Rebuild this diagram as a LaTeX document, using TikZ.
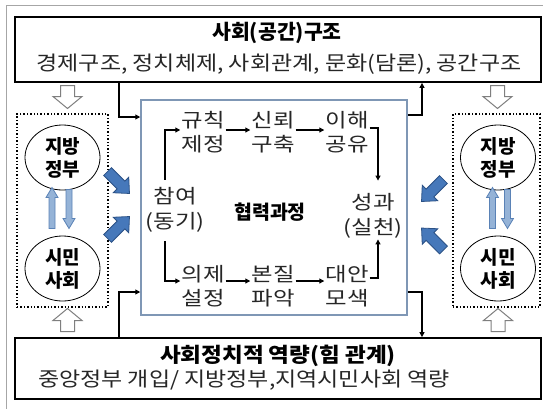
\documentclass[tikz,border=0pt]{standalone}
\usepackage{fontspec}
\setmainfont{Noto Sans CJK KR}
\newfontfamily\procfont[FakeStretch=1.2]{Noto Sans CJK KR}
\newfontfamily\subfont[FakeStretch=1.15]{Noto Sans CJK KR}
\newfontfamily\bttlfont[FakeStretch=1.1]{Noto Sans CJK KR}
\usetikzlibrary{arrows.meta,shapes.geometric}
\definecolor{frameg}{HTML}{A6A6A6}
\definecolor{innerb}{HTML}{7F97B5}
\definecolor{bluef}{HTML}{4678BA}
\definecolor{blued}{HTML}{2C5286}
\definecolor{lightf}{HTML}{95B3D7}
\definecolor{lightd}{HTML}{5A82B6}
\definecolor{hollowd}{HTML}{7F7F7F}
\definecolor{txt}{HTML}{262626}
\newcommand\blkarrow[8]{%
  \begin{scope}[shift={(#1,#2)},rotate=#3]
    \path[#8] ({-#4/2},{-#5/2}) -- ({#4/2-#7},{-#5/2}) -- ({#4/2-#7},{-#6/2})
      -- ({#4/2},0) -- ({#4/2-#7},{#6/2}) -- ({#4/2-#7},{#5/2}) -- ({-#4/2},{#5/2}) -- cycle;
  \end{scope}}
\tikzset{
  bigbox/.style={draw=black, line width=1.8pt, minimum width=526pt, inner sep=0pt},
  innerbox/.style={draw=innerb, line width=1.5pt, minimum width=266pt, minimum height=215pt, inner sep=0pt},
  dotbox/.style={draw=black, line width=1.4pt, dotted, minimum height=193pt, inner sep=0pt},
  ell/.style={ellipse, draw=black, line width=0.8pt, minimum width=75pt, minimum height=65pt, inner sep=0pt,
    align=center, font=\fontsize{19}{23}\selectfont\bfseries},
  proc/.style={align=center, inner sep=1pt, text=txt, font=\procfont\fontsize{19.5}{24.5}\selectfont},
  ttl/.style={inner sep=0pt, font=\fontsize{20.5}{24}\selectfont\bfseries},
  sub/.style={inner sep=0pt, text=txt, font=\subfont\fontsize{20}{24}\selectfont},
  conn/.style={draw=black, line width=1.1pt, -{Triangle[length=5pt,width=5pt]}},
  hollow/.style={draw=hollowd, fill=white, line width=1pt, line join=miter},
  bluearr/.style={draw=blued, fill=bluef, line width=0.8pt},
  lightarr/.style={draw=lightd, fill=lightf, line width=0.8pt}
}
\begin{document}
\begin{tikzpicture}[x=1pt,y=-1pt]
\useasboundingbox (0,0) rectangle (543,408);
\clip (0,0) rectangle (543,408);
\draw[frameg, line width=1pt] (6,420) -- (6,5) -- (560,5);

% top and bottom boxes
\node[bigbox, minimum height=65pt] (top) at (278,49.5) {};
\node[ttl] (toptitle) at (277,33) {사회(공간)구조};
\node[sub] (topsub) at (279,64) {경제구조, 정치체제, 사회관계, 문화(담론), 공간구조};
\node[bigbox, minimum height=61pt] (bot) at (278,368.5) {};
\node[ttl, font=\bttlfont\fontsize{20.5}{24}\selectfont\bfseries] (bottitle) at (278,356) {사회정치적 역량(힘 관계)};
\node[sub] (botsub) at (244,380) {중앙정부 개입/ 지방정부,지역시민사회 역량};

% inner process box
\node[innerbox] (inner) at (274,207.5) {};
\node[proc] (gyu) at (203,132) {규칙\\제정};
\node[proc] (sin) at (273,132) {신뢰\\구축};
\node[proc] (ihae) at (347,132) {이해\\공유};
\node[proc] (cham) at (175,210) {참여\\(동기)};
\node[proc, font=\fontsize{19.5}{24}\selectfont\bfseries, text=black] (hyeop) at (270,212) {협력과정};
\node[proc] (seong) at (373,216) {성과\\(실천)};
\node[proc] (uije) at (203,286) {의제\\설정};
\node[proc] (bon) at (273,286) {본질\\파악};
\node[proc] (daean) at (347,286) {대안\\모색};

\draw[conn] ([xshift=-10pt,yshift=7pt]cham.north) |- ([yshift=2pt]gyu.west);
\draw[conn] ([xshift=-10pt,yshift=-8pt]cham.south) |- ([yshift=5pt]uije.west);
\draw[conn] ([yshift=2pt]gyu.east) -- ([yshift=2pt]sin.west);
\draw[conn] ([yshift=2pt]sin.east) -- ([yshift=2pt]ihae.west);
\draw[conn] ([yshift=5pt]uije.east) -- ([yshift=5pt]bon.west);
\draw[conn] ([yshift=5pt]bon.east) -- ([yshift=5pt]daean.west);
\draw[conn] ([yshift=4pt]ihae.east) -| ([xshift=5pt,yshift=12pt]seong.north);
\draw[conn] ([yshift=8pt]daean.east) -| ([xshift=5pt]seong.south);

% connectors between outer boxes and process box
\coordinate (tl) at (119,117);
\coordinate (tr) at (422,115);
\coordinate (bl) at (119,292);
\coordinate (br) at (422,292);
\draw[conn] (top.south -| tl) -- (tl) -- (inner.west |- tl);
\draw[conn] (inner.east |- tr) -- (tr) -- (top.south -| tr);
\draw[conn] (bot.north -| bl) -- (bl) -- (inner.west |- bl);
\draw[conn] (inner.east |- br) -- (br) -- (bot.north -| br);

% actor groups
\node[dotbox, minimum width=91pt] (ldot) at (62.5,210.5) {};
\node[dotbox, minimum width=87pt] (rdot) at (496.5,210.5) {};
\node[ell] (lgov) at (62.5,157.5) {지방\\정부};
\node[ell] (lciv) at (62.5,268.5) {시민\\사회};
\node[ell] (rgov) at (498,157.5) {지방\\정부};
\node[ell] (rciv) at (498,268.5) {시민\\사회};

\blkarrow{52}{208}{90}{41}{6}{12}{10}{lightarr}
\blkarrow{69}{209}{-90}{39}{6}{12}{10}{lightarr}
\blkarrow{492.5}{208}{90}{41}{6}{12}{10}{lightarr}
\blkarrow{507.5}{209}{-90}{39}{6}{12}{10}{lightarr}

\blkarrow{118.5}{182.5}{-45}{31}{11}{22}{12}{bluearr}
\blkarrow{118.5}{227.5}{45}{31}{11}{22}{12}{bluearr}
\blkarrow{432.5}{190.5}{-135}{31}{11}{22}{12}{bluearr}
\blkarrow{432.5}{239}{135}{31}{11}{22}{12}{bluearr}

\blkarrow{67.5}{97}{-90}{23}{14}{29}{12}{hollow}
\blkarrow{497.5}{97}{-90}{23}{14}{29}{12}{hollow}
\blkarrow{67.5}{320}{90}{23}{14}{29}{12}{hollow}
\blkarrow{498}{320}{90}{23}{14}{29}{12}{hollow}
\end{tikzpicture}
\end{document}
